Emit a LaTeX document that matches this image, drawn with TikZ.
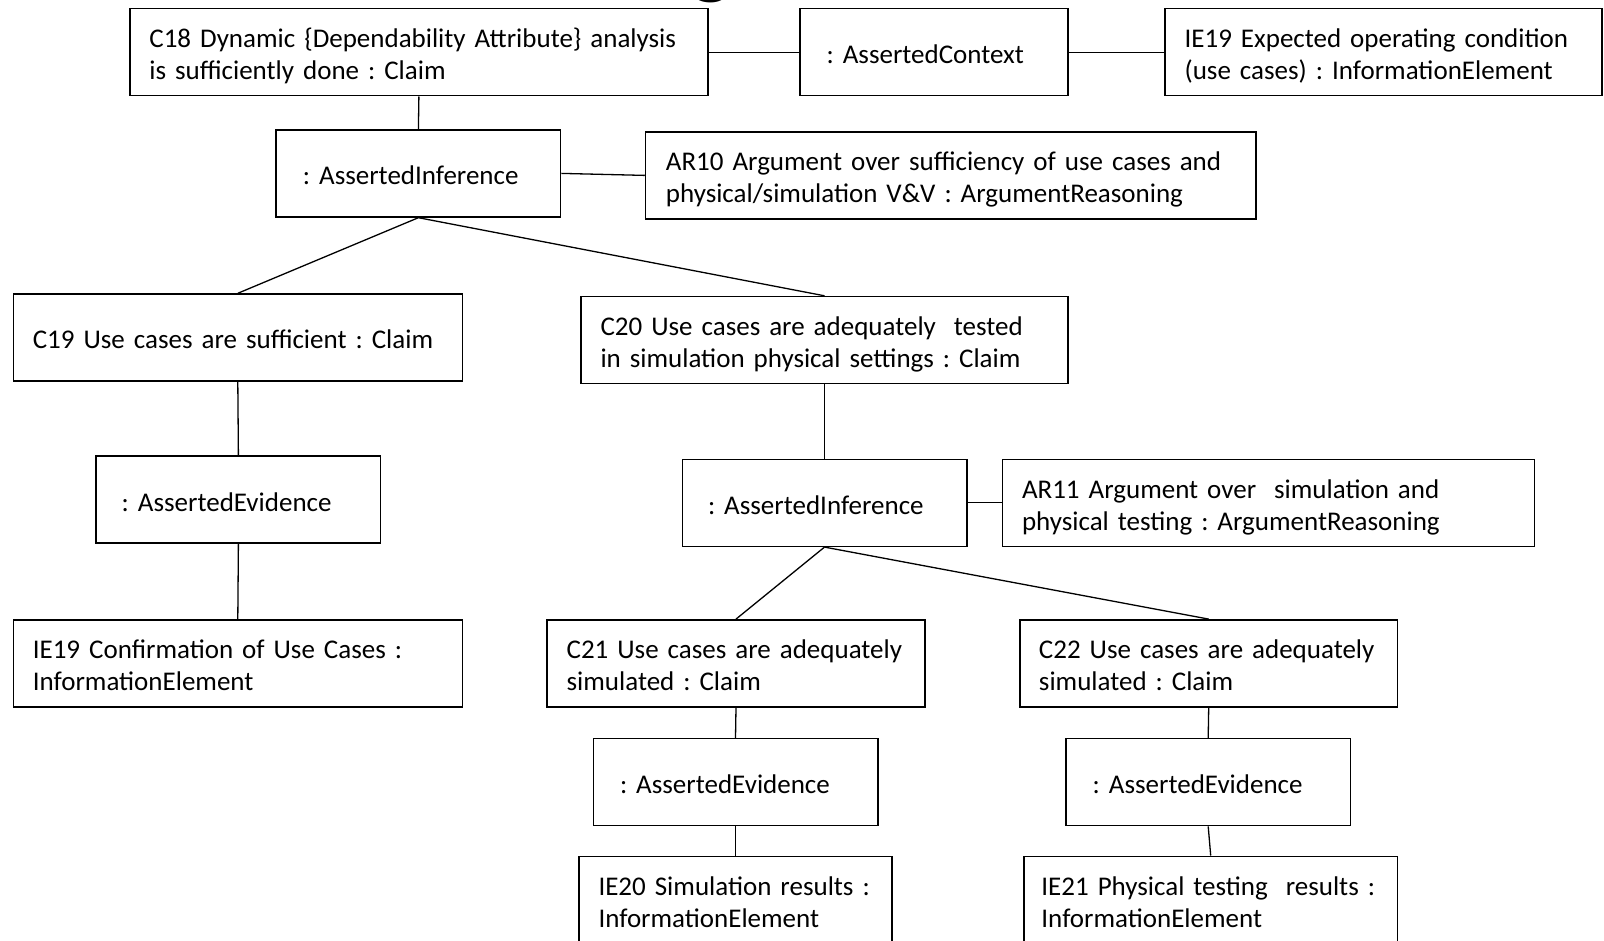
\documentclass[tikz,border=0pt]{standalone}
\usepackage{fontspec}
\setmainfont{Carlito}
\frenchspacing
\newcommand\ml[1]{\mbox{#1}}
\newcommand\lineA[1]{\mbox{\rule{0pt}{30.7pt}#1}}
\newcommand\lineB[1]{\mbox{#1\rule[-8pt]{0pt}{8pt}}}
\newcommand\lineS[1]{\mbox{\rule[-8pt]{0pt}{38.7pt}#1}}
\begin{document}
\begin{tikzpicture}[x=1pt,y=-1pt,
  bx/.style={draw, line width=1.6pt, rectangle, inner ysep=0pt, align=left,
    font=\fontsize{27}{31.7}\selectfont, minimum height=87pt},
  ln/.style={line width=1.3pt}]
\useasboundingbox (0,0) rectangle (1604,941);
\node[font=\fontsize{85}{85}\selectfont\bfseries, anchor=base, inner sep=0pt] (title) at (712,-11) {g};

\node[bx, minimum width=578pt, text width=539pt] (c18) at (418.9,52.2) {\lineA{C18 Dynamic \{Dependability Attribute\} analysis}\\\lineB{is sufficiently done : Claim}};
\node[bx, minimum width=268pt, text width=214.8pt] (ac) at (934,52.2) {\lineS{: AssertedContext}};
\node[bx, minimum width=437pt, text width=398pt] (ie19e) at (1383.6,52.2) {\lineA{IE19 Expected operating condition}\\\lineB{(use cases) : InformationElement}};
\node[bx, minimum width=284.4pt, text width=231pt] (ai1) at (418.4,173.4) {\lineS{: AssertedInference}};
\node[bx, minimum width=610.7pt, text width=570pt] (ar10) at (950.9,175.4) {\lineA{AR10 Argument over sufficiency of use cases and}\\\lineB{physical/simulation V\&V : ArgumentReasoning}};
\node[bx, minimum width=449pt, text width=410pt] (c19) at (237.8,337.6) {\lineS{C19 Use cases are sufficient : Claim}};
\node[bx, minimum width=487pt, text width=448pt] (c20) at (824.5,340.1) {\lineA{C20 Use cases are adequately\ \ tested}\\\lineB{in simulation physical settings : Claim}};
\node[bx, minimum width=284.4pt, text width=233.4pt] (ae1) at (238.4,499.7) {\lineS{: AssertedEvidence}};
\node[bx, minimum width=284.4pt, text width=233pt] (ai2) at (824.5,502.8) {\lineS{: AssertedInference}};
\node[bx, minimum width=532pt, text width=493pt] (ar11) at (1268.5,502.8) {\lineA{AR11 Argument over\ \ simulation and}\\\lineB{physical testing : ArgumentReasoning}};
\node[bx, minimum width=449pt, text width=410pt] (ie19c) at (237.8,663.4) {\lineA{IE19 Confirmation of Use Cases :}\\\lineB{InformationElement}};
\node[bx, minimum width=377.5pt, text width=338.7pt] (c21) at (736,663.4) {\lineA{C21 Use cases are adequately}\\\lineB{simulated : Claim}};
\node[bx, minimum width=377.5pt, text width=339.5pt] (c22) at (1208.7,663.4) {\lineA{C22 Use cases are adequately}\\\lineB{simulated : Claim}};
\node[bx, minimum width=284.4pt, text width=231pt] (ae2) at (735.5,782.1) {\lineS{: AssertedEvidence}};
\node[bx, minimum width=284.4pt, text width=231pt] (ae3) at (1208.2,782.1) {\lineS{: AssertedEvidence}};
\node[bx, minimum width=313pt, text width=274pt] (ie20) at (735.5,899.8) {\lineA{IE20 Simulation results :}\\\lineB{InformationElement}};
\node[bx, minimum width=373.4pt, text width=338.6pt] (ie21) at (1210.7,899.8) {\lineA{IE21 Physical testing\ \ results :}\\\lineB{InformationElement}};

\draw[ln] (c18.east) -- (ac.west);
\draw[ln] (ac.east) -- (ie19e.west);
\draw[ln] (c18.south) -- (ai1.north);
\draw[ln] (ai1.east) -- (ar10.west);
\draw[ln] (ai1.south) -- (c19.north);
\draw[ln] (ai1.south) -- (c20.north);
\draw[ln] (c19.south) -- (ae1.north);
\draw[ln] (ae1.south) -- (ie19c.north);
\draw[ln] (c20.south) -- (ai2.north);
\draw[ln] (ai2.east) -- (ar11.west);
\draw[ln] (ai2.south) -- (c21.north);
\draw[ln] (ai2.south) -- (c22.north);
\draw[ln] (c21.south) -- (ae2.north);
\draw[ln] (ae2.south) -- (ie20.north);
\draw[ln] (c22.south) -- (ae3.north);
\draw[ln] (ae3.south) -- (ie21.north);
\end{tikzpicture}
\end{document}
